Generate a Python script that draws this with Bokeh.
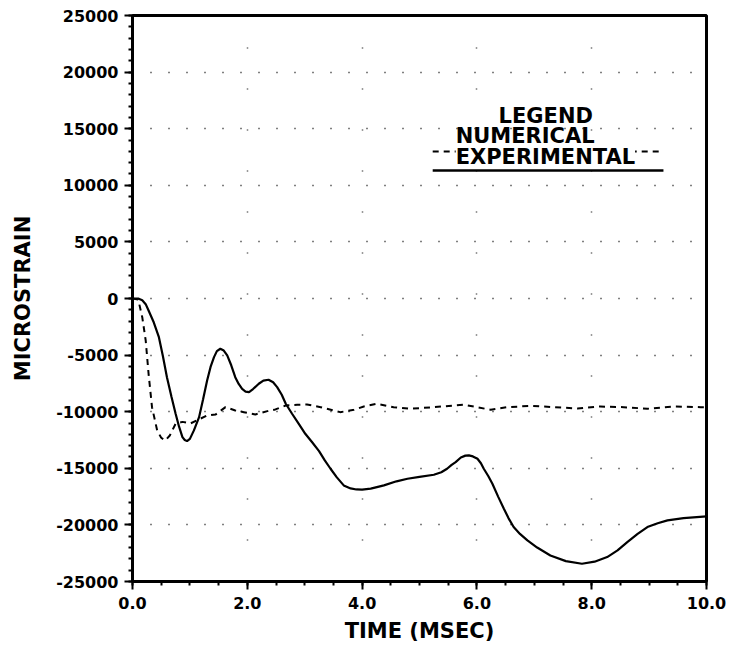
from bokeh.plotting import figure
from bokeh.models import Range1d, SingleIntervalTicker, NumeralTickFormatter, Label
from bokeh.embed import file_html
from bokeh.resources import INLINE

# Numerical (dashed) series, time in msec, strain in microstrain
time_num = [0.0, 0.10, 0.17, 0.23, 0.28, 0.34, 0.43, 0.50, 0.57, 0.65, 0.75, 0.87, 1.01,
            1.30, 1.45, 1.62, 1.79, 1.94, 2.14, 2.35, 2.49, 2.67, 2.87, 3.04, 3.28, 3.62,
            3.86, 4.03, 4.26, 4.55, 4.84, 5.25, 5.60, 5.77, 6.00, 6.24, 6.53, 6.96, 7.34,
            7.75, 8.15, 8.56, 8.97, 9.43, 9.90, 10.0]
strain_num = [0, -100, -1650, -3710, -6650, -9600, -11660, -12300, -12540, -12100, -11070,
              -10900, -11040, -10330, -10240, -9600, -9890, -10040, -10240, -9950, -9800,
              -9450, -9390, -9360, -9600, -10040, -9830, -9540, -9300, -9600, -9740, -9600,
              -9450, -9390, -9600, -9830, -9600, -9480, -9600, -9710, -9540, -9600, -9740,
              -9540, -9600, -9600]

# Experimental (solid) series
time_exp = [0.0, 0.10, 0.17, 0.23, 0.28, 0.37, 0.46, 0.53, 0.60, 0.68, 0.75, 0.81, 0.87,
            0.91, 0.95, 1.00, 1.07, 1.16, 1.23, 1.30, 1.36, 1.42, 1.47, 1.53, 1.59, 1.65,
            1.72, 1.79, 1.85, 1.91, 1.97, 2.03, 2.10, 2.20, 2.28, 2.37, 2.45, 2.52, 2.60,
            2.67, 2.78, 2.90, 3.01, 3.13, 3.25, 3.35, 3.45, 3.56, 3.68, 3.80, 3.90, 4.00,
            4.15, 4.38, 4.60, 4.79, 5.00, 5.25, 5.38, 5.48, 5.56, 5.63, 5.72, 5.80, 5.86,
            5.93, 6.01, 6.07, 6.12, 6.20, 6.27, 6.37, 6.47, 6.55, 6.64, 6.75, 6.88, 7.05,
            7.28, 7.55, 7.83, 8.05, 8.27, 8.45, 8.62, 8.80, 8.97, 9.15, 9.32, 9.60, 10.0]
strain_exp = [0, 0, -150, -500, -1060, -2100, -3420, -5100, -6950, -8700, -10160, -11300,
              -12250, -12500, -12600, -12400, -11650, -10480, -8900, -7240, -6050, -5180,
              -4650, -4440, -4600, -5030, -5900, -6950, -7550, -7980, -8220, -8270, -8000,
              -7530, -7250, -7180, -7400, -7830, -8500, -9300, -10180, -11100, -11950,
              -12700, -13480, -14300, -15040, -15800, -16510, -16780, -16870, -16890,
              -16800, -16510, -16150, -15920, -15750, -15570, -15350, -15040, -14700,
              -14450, -14050, -13880, -13860, -13950, -14160, -14550, -15040, -15700,
              -16360, -17500, -18570, -19400, -20190, -20800, -21370, -22000, -22700,
              -23200, -23430, -23250, -22840, -22250, -21520, -20800, -20190, -19850,
              -19600, -19400, -19250]

legend_title = "LEGEND"
legend_labels = ["NUMERICAL", "EXPERIMENTAL"]

FONT = "DejaVu Sans"

p = figure(width=726, height=645, output_backend="svg", toolbar_location=None,
           x_range=Range1d(0, 10), y_range=Range1d(-25000, 25000),
           min_border_left=132, min_border_right=20, min_border_top=15,
           min_border_bottom=63)

p.background_fill_color = "white"
p.border_fill_color = "white"
p.outline_line_color = "black"
p.outline_line_width = 3

# axes
p.xaxis.ticker = SingleIntervalTicker(interval=2, num_minor_ticks=4)
p.yaxis.ticker = SingleIntervalTicker(interval=5000, num_minor_ticks=5)
p.xaxis.formatter = NumeralTickFormatter(format="0.0")
p.yaxis.formatter = NumeralTickFormatter(format="0")
for ax in (p.xaxis, p.yaxis):
    ax.axis_line_width = 3
    ax.axis_line_color = "black"
    ax.major_tick_line_width = 2
    ax.minor_tick_line_width = 2
    ax.major_tick_out = 8
    ax.major_tick_in = 0
    ax.minor_tick_out = 4
    ax.minor_tick_in = 0
    ax.major_label_text_font = FONT
    ax.major_label_text_font_style = "bold"
    ax.major_label_text_font_size = "16px"
    ax.major_label_text_color = "black"
    ax.axis_label_text_font = FONT
    ax.axis_label_text_font_style = "bold"
    ax.axis_label_text_font_size = "21px"
    ax.axis_label_text_color = "black"
p.xaxis.axis_label = "TIME (MSEC)"
p.yaxis.axis_label = "MICROSTRAIN"
p.xaxis.major_label_standoff = 7
p.yaxis.major_label_standoff = 6
p.xaxis.axis_label_standoff = 7
p.yaxis.axis_label_standoff = 18

# sparse dotted grid
p.ygrid.grid_line_color = "black"
p.ygrid.grid_line_dash = "1 17"
p.ygrid.grid_line_width = 1.5
p.xgrid.grid_line_color = "black"
p.xgrid.grid_line_dash = "1 40"
p.xgrid.grid_line_width = 1.5
p.xgrid.grid_line_alpha = 0.8

# curves
p.line(time_num, strain_num, line_color="black", line_width=2, line_dash="6 5")
p.line(time_exp, strain_exp, line_color="black", line_width=2.2)

# custom legend
p.line([5.23, 9.25], [12980, 12980], line_color="black", line_width=2, line_dash="6 5")
p.line([5.23, 9.25], [11300, 11300], line_color="black", line_width=2.5)

p.add_layout(Label(x=7.2, y=16150, text=legend_title, text_align="center",
                   text_baseline="alphabetic", text_font=FONT, text_font_style="bold",
                   text_font_size="21px", text_color="black"))
p.add_layout(Label(x=5.63, y=14390, text=legend_labels[0], text_align="left",
                   text_baseline="alphabetic", text_font=FONT, text_font_style="bold",
                   text_font_size="21px", text_color="black"))
p.add_layout(Label(x=5.63, y=12530, text=legend_labels[1], text_align="left",
                   text_baseline="alphabetic", text_font=FONT, text_font_style="bold",
                   text_font_size="21px", text_color="black",
                   background_fill_color="white", padding=0))

open("out.html", "w").write(file_html(p, INLINE))
